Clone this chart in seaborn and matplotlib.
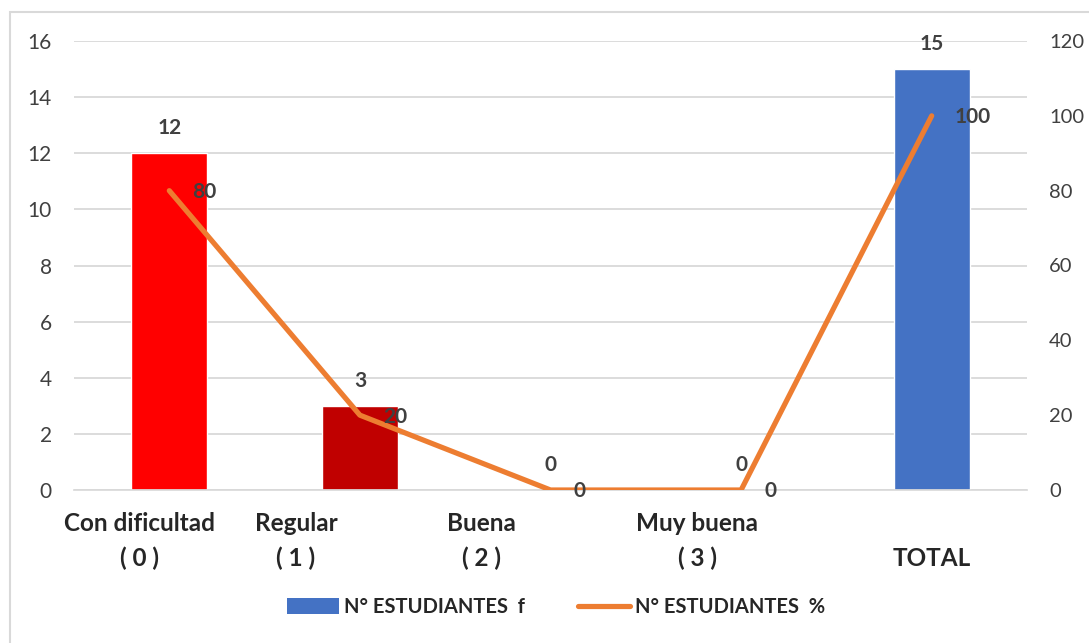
import matplotlib
matplotlib.use("Agg")
import matplotlib.pyplot as plt
import seaborn as sns
import pandas as pd
from matplotlib.patches import Rectangle, Patch
from matplotlib.lines import Line2D

categories = ["Con dificultad\n( 0 )", "Regular\n( 1 )", "Buena\n( 2 )", "Muy buena\n( 3 )", "\nTOTAL"]
freq = [12, 3, 0, 0, 15]
pct = [80, 20, 0, 0, 100]
bar_colors = ["#FF0000", "#C00000", "#C00000", "#C00000", "#4472C4"]
series_names = ["N° ESTUDIANTES  f", "N° ESTUDIANTES  %"]
# horizontal shift (points) of each category label, as in the reference
label_shift = [-21.5, -46, -49.5, -31.5, 0]

sns.set_theme(style="white")
plt.rcParams["font.family"] = ["Lato", "DejaVu Sans"]

df = pd.DataFrame({"cat": categories, "f": freq, "p": pct})

fig = plt.figure(figsize=(10.89, 6.43), dpi=100)
fig.patches.append(Rectangle((10 / 1089, -0.1), 1.2, 0.1 + (643 - 12) / 643, transform=fig.transFigure,
                             fill=False, edgecolor="#D9D9D9", linewidth=1.5))
ax = fig.add_axes([74 / 1089, (643 - 490) / 643, (1027 - 74) / 1089, (490 - 41) / 643])

sns.barplot(data=df, x="cat", y="f", hue="cat", palette=bar_colors, legend=False,
            width=0.4, ax=ax, saturation=1)
ax.set_ylim(0, 16)
ax.set_yticks(range(0, 17, 2))
ax.yaxis.grid(True, color="#D9D9D9", linewidth=1.3)
ax.set_axisbelow(True)
for s in ax.spines.values():
    s.set_visible(False)
ax.spines["bottom"].set_visible(True)
ax.spines["bottom"].set_color("#D9D9D9")
ax.set_xlabel("")
ax.set_ylabel("")
ax.tick_params(axis="y", length=0, labelsize=15, labelcolor="#404040", pad=16)
ax.tick_params(axis="x", length=0, labelbottom=False)
for i, (lab, dx) in enumerate(zip(categories, label_shift)):
    ax.annotate(lab, (i, 0), xycoords=("data", "axes fraction"), xytext=(dx, -16),
                textcoords="offset points", ha="center", va="top", fontsize=17.5,
                fontweight="bold", color="#262626", linespacing=1.6, multialignment="center")
for i, v in enumerate(freq):
    ax.annotate(str(v), (i, v), xytext=(0, 11), textcoords="offset points",
                ha="center", va="bottom", fontsize=15, fontweight="bold", color="#404040")

ax2 = ax.twinx()
sns.lineplot(data=df, x="cat", y="p", ax=ax2, color="#ED7D31", linewidth=3.75,
             solid_capstyle="round", sort=False)
ax2.set_ylim(0, 120)
ax2.set_yticks(range(0, 121, 20))
ax.set_xlim(-0.5, len(categories) - 0.5)
for s in ax2.spines.values():
    s.set_visible(False)
ax2.set_ylabel("")
ax2.set_xlabel("")
ax2.tick_params(axis="y", length=0, labelsize=14.5, labelcolor="#404040", pad=16)
ax2.tick_params(axis="x", length=0, labelbottom=False)
for i, v in enumerate(pct):
    ax2.annotate(str(v), (i, v), xytext=(16.5, -1), textcoords="offset points",
                 ha="left", va="center", fontsize=15, fontweight="bold", color="#404040")

handles = [Patch(facecolor="#4472C4", edgecolor="none"),
           Line2D([0], [0], color="#ED7D31", linewidth=3.75, solid_capstyle="round")]
leg = fig.legend(handles, series_names, loc="center", bbox_to_anchor=(556 / 1089, (643 - 607) / 643),
                 ncol=2, frameon=False, handlelength=2.6, handleheight=0.8, handletextpad=0.27,
                 columnspacing=2.6, prop={"weight": "bold", "size": 14.5})
for t in leg.get_texts():
    t.set_color("#262626")

fig.savefig("out.png", dpi=100)
